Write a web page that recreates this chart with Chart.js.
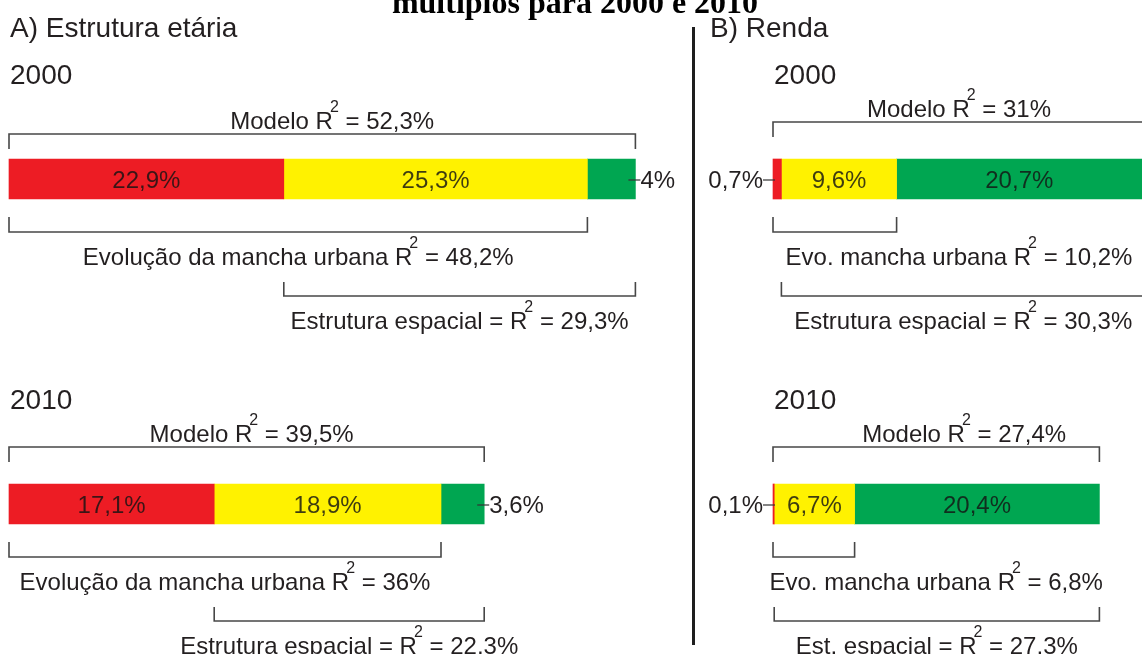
<!DOCTYPE html>
<html>
<head>
<meta charset="utf-8">
<script src="https://cdn.jsdelivr.net/npm/chart.js@4.4.1/dist/chart.umd.min.js"></script>
<style>
  html, body { margin: 0; padding: 0; background: #ffffff; }
  #wrap { position: relative; width: 1142px; height: 654px; overflow: hidden; background: #fff; }
  canvas { position: absolute; left: 0; top: 0; }
</style>
</head>
<body>
<div id="wrap">
  <canvas id="cEtaria" width="1142" height="654"></canvas>
  <canvas id="cRenda" width="1142" height="654"></canvas>
</div>
<script>
// ---------------- DATA ----------------
const chartTitle = 'múltiplos para 2000 e 2010';
const panelTitles = ['A) Estrutura etária', 'B) Renda'];
const years = ['2000', '2010'];
const seriesNames = ['Evolução da mancha urbana (exclusivo)', 'Parcela comum', 'Estrutura espacial (exclusivo)'];

// A) Estrutura etária
const etariaEvolucao = [22.9, 17.1];   // vermelho
const etariaComum    = [25.3, 18.9];   // amarelo
const etariaEspacial = [4, 3.6];       // verde
const etariaModeloR2 = [52.3, 39.5];
const etariaEvoR2    = [48.2, 36];
const etariaEstR2    = [29.3, 22.3];
const etariaEvoLabels = ['Evolução da mancha urbana R', 'Evolução da mancha urbana R'];
const etariaEstLabels = ['Estrutura espacial = R', 'Estrutura espacial = R'];

// B) Renda
const rendaEvolucao = [0.7, 0.1];
const rendaComum    = [9.6, 6.7];
const rendaEspacial = [20.7, 20.4];
const rendaModeloR2 = [31, 27.4];
const rendaEvoR2    = [10.2, 6.8];
const rendaEstR2    = [30.3, 27.3];
const rendaEvoLabels = ['Evo. mancha urbana R', 'Evo. mancha urbana R'];
const rendaEstLabels = ['Estrutura espacial = R', 'Est. espacial = R'];

const modeloLabel = 'Modelo R';

// ---------------- STYLE ----------------
const RED = '#ed1c24', YELLOW = '#fff200', GREEN = '#00a651';
const INK = '#231f20';
const LINE = '#474747';
const FAMILY = '"Liberation Sans", Arial, sans-serif';
const MAIN_FONT = '24px ' + FAMILY;
const SUP_FONT = '16px ' + FAMILY;
const HEAD_FONT = '28px ' + FAMILY;

const fmt = v => String(v).replace('.', ',') + '%';

function richParts(label, v) {
  return [{t: label}, {t: '2', sup: true, dx: -3}, {t: ' = ' + fmt(v)}];
}
function richWidth(ctx, parts) {
  let w = 0;
  parts.forEach(p => { ctx.font = p.sup ? SUP_FONT : MAIN_FONT; w += ctx.measureText(p.t).width + (p.dx || 0); });
  return w;
}
function drawRich(ctx, parts, x, y, align) {
  const w = richWidth(ctx, parts);
  let cx = align === 'center' ? x - w / 2 : (align === 'right' ? x - w : x);
  ctx.textAlign = 'left';
  ctx.textBaseline = 'alphabetic';
  ctx.fillStyle = INK;
  parts.forEach(p => {
    ctx.font = p.sup ? SUP_FONT : MAIN_FONT;
    cx += (p.dx || 0);
    ctx.fillText(p.t, cx, p.sup ? y - 17 : y);
    cx += ctx.measureText(p.t).width;
  });
}
function bracket(ctx, x1, x2, y, tick) {
  // tick > 0 : ticks go down; tick < 0 : ticks go up
  ctx.save();
  ctx.strokeStyle = LINE;
  ctx.lineWidth = 1.6;
  ctx.beginPath();
  ctx.moveTo(x1, y + tick);
  ctx.lineTo(x1, y);
  ctx.lineTo(x2, y);
  ctx.lineTo(x2, y + tick);
  ctx.stroke();
  ctx.restore();
}

const annotate = {
  id: 'annotate',
  afterDatasetsDraw(chart, args, o) {
    const ctx = chart.ctx;
    const area = chart.chartArea;
    ctx.save();
    // panel heading
    ctx.font = HEAD_FONT; ctx.fillStyle = INK; ctx.textAlign = 'left'; ctx.textBaseline = 'alphabetic';
    ctx.fillText(o.heading, o.headingX, 37);

    if (o.drawFrame) {
      // figure title (cut at top) and the divider between panels
      ctx.font = 'bold 32px "Liberation Serif", "Times New Roman", serif';
      ctx.textAlign = 'center';
      ctx.fillStyle = '#000';
      ctx.fillText(chartTitle, 575, 13);
      ctx.fillStyle = '#1e1e1e';
      ctx.fillRect(692, 27, 3, 618);
    }

    const metas = [0, 1, 2].map(i => chart.getDatasetMeta(i));
    years.forEach((yr, j) => {
      const b = metas.map(m => m.data[j].getProps(['x', 'base', 'y', 'height'], true));
      const top = b[0].y - b[0].height / 2;
      const bottom = b[0].y + b[0].height / 2;
      const x0 = b[0].base;
      const xEnd = b[2].x;

      // year label
      ctx.font = HEAD_FONT; ctx.fillStyle = INK; ctx.textAlign = 'left';
      ctx.fillText(yr, area.left + 1, top - 75);

      // Modelo bracket (above)
      const gapTop = o.topGap[j];
      bracket(ctx, x0, xEnd, top - gapTop, 15);
      drawRich(ctx, richParts(modeloLabel, o.modelo[j]), (x0 + xEnd) / 2 + o.modeloShift[j], top - gapTop - 5, 'center');

      // Evolução bracket (red + yellow)
      const yEvo = bottom + 33;
      bracket(ctx, x0, b[1].x, yEvo, -15);
      const evoCx = o.evoOnBar ? (x0 + xEnd) / 2 : (x0 + b[1].x) / 2;
      drawRich(ctx, richParts(o.evoLabels[j], o.evo[j]), evoCx, bottom + 66, 'center');

      // Estrutura espacial bracket (yellow + green)
      const yEst = bottom + 97;
      bracket(ctx, b[1].base, xEnd, yEst, -14);
      drawRich(ctx, richParts(o.estLabels[j], o.est[j]), (b[1].base + xEnd) / 2, bottom + 130, 'center');

      // values
      ctx.font = MAIN_FONT;
      ctx.textBaseline = 'alphabetic';
      [0, 1, 2].forEach(i => {
        const v = chart.data.datasets[i].data[j];
        const cy = b[i].y + 9;
        if (i === o.outside) {
          ctx.strokeStyle = '#333'; ctx.lineWidth = 1.2;
          ctx.beginPath();
          if (o.outsideSide === 'right') {
            ctx.moveTo(b[i].x - 7, b[i].y + 1); ctx.lineTo(b[i].x + 5, b[i].y + 1); ctx.stroke();
            ctx.fillStyle = INK; ctx.textAlign = 'left';
            ctx.fillText(fmt(v), b[i].x + 5, cy);
          } else {
            ctx.moveTo(b[i].base - 10, b[i].y + 1); ctx.lineTo(b[i].base + 2, b[i].y + 1); ctx.stroke();
            ctx.fillStyle = INK; ctx.textAlign = 'right';
            ctx.fillText(fmt(v), b[i].base - 10, cy);
          }
        } else {
          ctx.fillStyle = 'rgba(20,20,20,0.82)'; ctx.textAlign = 'center';
          const cx = (b[i].base + Math.min(b[i].x, 1142 + (b[i].x - b[i].base) * 0)) / 2;
          ctx.fillText(fmt(v), cx, cy);
        }
      });
    });
    ctx.restore();
  }
};

function makeChart(id, red, yellow, green, padding, xMax, annot) {
  return new Chart(document.getElementById(id), {
    type: 'bar',
    data: {
      labels: years,
      datasets: [
        {label: seriesNames[0], data: red, backgroundColor: RED, clip: false},
        {label: seriesNames[1], data: yellow, backgroundColor: YELLOW, clip: false},
        {label: seriesNames[2], data: green, backgroundColor: GREEN, clip: false}
      ]
    },
    options: {
      indexAxis: 'y',
      responsive: false,
      animation: false,
      devicePixelRatio: 1,
      layout: {padding: padding},
      datasets: {bar: {barThickness: 40, borderWidth: 0}},
      scales: {
        x: {stacked: true, min: 0, max: xMax, display: false},
        y: {stacked: true, offset: false, display: false}
      },
      plugins: {
        legend: {display: false},
        tooltip: {enabled: false},
        title: {display: false},
        annotate: annot
      }
    },
    plugins: [annotate]
  });
}

// 12 px per percentage point in both panels
makeChart('cEtaria', etariaEvolucao, etariaComum, etariaEspacial,
  {left: 9, right: 473, top: 179, bottom: 150}, 55,
  {heading: panelTitles[0], headingX: 10, drawFrame: true,
   modelo: etariaModeloR2, evo: etariaEvoR2, est: etariaEstR2,
   evoLabels: etariaEvoLabels, estLabels: etariaEstLabels,
   topGap: [25, 37], modeloShift: [10, 5], evoOnBar: false,
   outside: 2, outsideSide: 'right'});

makeChart('cRenda', rendaEvolucao, rendaComum, rendaEspacial,
  {left: 773, right: 0, top: 179, bottom: 150}, 30.75,
  {heading: panelTitles[1], headingX: 710, drawFrame: false,
   modelo: rendaModeloR2, evo: rendaEvoR2, est: rendaEstR2,
   evoLabels: rendaEvoLabels, estLabels: rendaEstLabels,
   topGap: [37, 37], modeloShift: [0, 28], evoOnBar: true,
   outside: 0, outsideSide: 'left'});
</script>
</body>
</html>
